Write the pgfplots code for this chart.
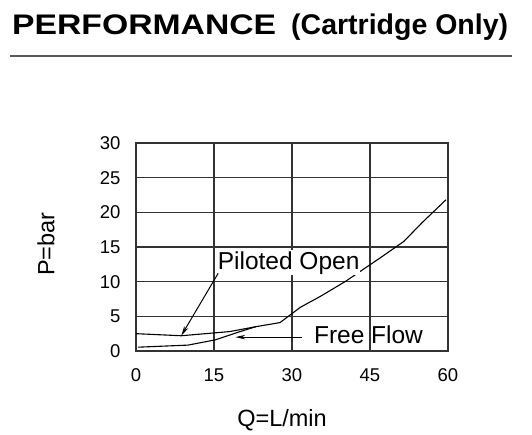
\documentclass[border=0pt]{standalone}
\usepackage{fontspec}
\setmainfont{Liberation Sans}
\usepackage{pgfplots}
\pgfplotsset{compat=1.18}
\usetikzlibrary{arrows.meta}

\begin{document}
\begin{tikzpicture}
\useasboundingbox (0pt,0pt) rectangle (532pt,434pt);
% title and rule
\node[anchor=base west, inner sep=0pt, font=\bfseries\fontsize{28.5}{32}\selectfont]
  at (12pt,399pt) {\resizebox{264pt}{!}{\scalebox{1}[0.84]{PERFORMANCE}}};
\node[anchor=base west, inner sep=0pt, font=\bfseries\fontsize{28.5}{32}\selectfont]
  at (291pt,399pt) {(Cartridge Only)};
\draw[line width=2.3pt, black!65] (10pt,378pt) -- (512pt,378pt);

\begin{axis}[
  at={(136pt,83pt)}, anchor=south west,
  width=312pt, height=208pt, scale only axis,
  xmin=0, xmax=60, ymin=0, ymax=30,
  xtick={0,15,30,45,60}, ytick={0,5,10,15,20,25,30},
  grid=major,
  major grid style={line width=1.3pt, black!80},
  axis line style={line width=1.3pt, black!80},
  major tick length=0pt,
  tick label style={font=\fontsize{18.5}{20}\selectfont},
  /pgf/number format/assume math mode=true,
  xticklabel style={anchor=base, yshift=-30pt},
  yticklabel style={anchor=east, xshift=-12pt},
  clip=false]
% Piloted Open
\addplot[black, line width=1.1pt] coordinates {
 (0,2.5) (8.7,2.2) (18,2.8) (23,3.5) (27.7,4.1) (31.6,6.3) (35.5,7.9) (40.2,10.0) (46.9,13.4) (51.5,15.8) (55,18.5) (59.6,21.8)
};
% Free Flow
\addplot[black, line width=1.1pt] coordinates {
 (0.4,0.55) (10,0.85) (15.2,1.6) (19.4,2.65) (23,3.5)
};
\node[anchor=base west, inner sep=1pt, fill=white, font=\fontsize{24.5}{26}\selectfont]
  at (axis cs:15.5,11.8) {Piloted Open};
\node[anchor=base west, inner sep=0pt, font=\fontsize{24.5}{26}\selectfont]
  at (axis cs:34.2,1.15) {Free Flow};
\draw[black, line width=1pt, -{Stealth[length=10pt,width=4.5pt]}]
  (axis cs:15.8,11.2) -- (axis cs:8.7,2.2);
\draw[black, line width=1pt, -{Stealth[length=10pt,width=4.5pt]}]
  (axis cs:31.9,2.0) -- (axis cs:19.1,2.0);
\end{axis}

\node[anchor=center, inner sep=0pt, font=\fontsize{23.5}{26}\selectfont]
  at (46pt,190pt) {\rotatebox{90}{P=bar}};
\node[anchor=base, inner sep=0pt, font=\fontsize{23.5}{26}\selectfont]
  at (282pt,8pt) {Q=L/min};
\end{tikzpicture}
\end{document}
